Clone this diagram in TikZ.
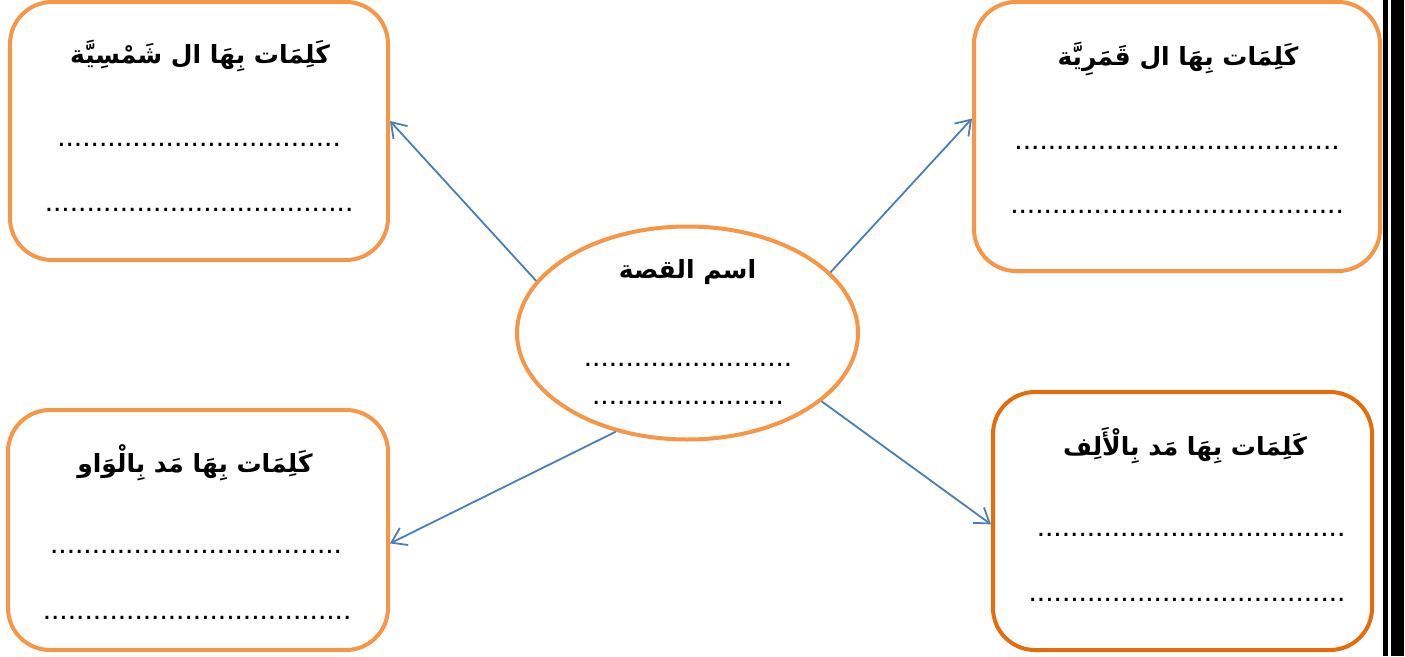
\documentclass[tikz,border=0pt]{standalone}
\usepackage{fontspec}
\usetikzlibrary{calc,arrows.meta,shapes.geometric}
\TeXXeTstate=1
\newfontfamily\arabicfont[Script=Arabic]{DejaVu Sans}
\newfontfamily\dotfont{Liberation Sans}
\definecolor{boxorange}{HTML}{F79646}
\definecolor{darkorange}{HTML}{E46C0A}
\definecolor{linkblue}{HTML}{4A7EBB}

\tikzset{
  wordbox/.style={draw=boxorange,line width=4pt,rounded corners=42pt,inner sep=0pt},
  title/.style={font=\arabicfont\bfseries\fontsize{25}{28}\selectfont,inner sep=0pt},
  dotrow/.style={font=\dotfont\fontsize{30}{30}\selectfont,inner sep=0pt},
  link/.style={draw=linkblue,line width=1.8pt,-{Straight Barb[length=14pt,width=19pt,line width=1.8pt]}},
}

\begin{document}
\begin{tikzpicture}[x=1pt,y=-1pt]
  \useasboundingbox (0,0) rectangle (1405,656);
  % right border bars
  \fill (1383,0) rectangle (1388,656);
  \fill (1391,0) rectangle (1404,656);

  \node[ellipse,draw=boxorange,line width=4pt,minimum width=341pt,minimum height=213pt] (story) at (687.5,333) {};
  \node[wordbox,minimum width=378pt,minimum height=258pt] (shams) at ($(story)+(-488.5,-202)$) {};
  \node[wordbox,minimum width=406pt,minimum height=269pt] (qamar) at ($(story)+(489.5,-196.5)$) {};
  \node[wordbox,minimum width=380pt,minimum height=240pt] (waw) at ($(story)+(-489.5,197)$) {};
  \node[wordbox,draw=darkorange,minimum width=379pt,minimum height=258pt] (alif) at ($(story)+(495,188)$) {};

  % titles
  \node[title] (storyT) at ($(story)+(0,-61)$) {\beginR اسم القصة\endR};
  \node[title] (shamsT) at (200,56) {\beginR كَلِمَات بِهَا ال شَمْسِيَّة\endR};
  \node[title] (qamarT) at (1178,59) {\beginR كَلِمَات بِهَا ال قَمَرِيَّة\endR};
  \node[title] (wawT) at (195,463) {\beginR كَلِمَات بِهَا مَد بِالْوَاو\endR};
  \node[title] (alifT) at (1185,446) {\beginR كَلِمَات بِهَا مَد بِالْأَلِف\endR};

  % dotted lines
  \node[dotrow] (storyA) at (688,365) {.........................};
  \node[dotrow] (storyB) at (688,403) {.......................};
  \node[dotrow] (shamsA) at (199,145) {..................................};
  \node[dotrow] (shamsB) at (199,210) {.....................................};
  \node[dotrow] (qamarA) at (1177,148) {.......................................};
  \node[dotrow] (qamarB) at (1177,212) {........................................};
  \node[dotrow] (wawA) at (196,552) {...................................};
  \node[dotrow] (wawB) at (197,618) {.....................................};
  \node[dotrow] (alifA) at (1191,535) {.....................................};
  \node[dotrow] (alifB) at (1187,600) {......................................};

  % arrows
  \draw[link] (story.161) -- (shams.3);
  \draw[link] (story.23) -- (qamar.175);
  \draw[link] (story.234) -- (waw.356);
  \draw[link] (story.333) -- (alif.181);
\end{tikzpicture}
\end{document}
